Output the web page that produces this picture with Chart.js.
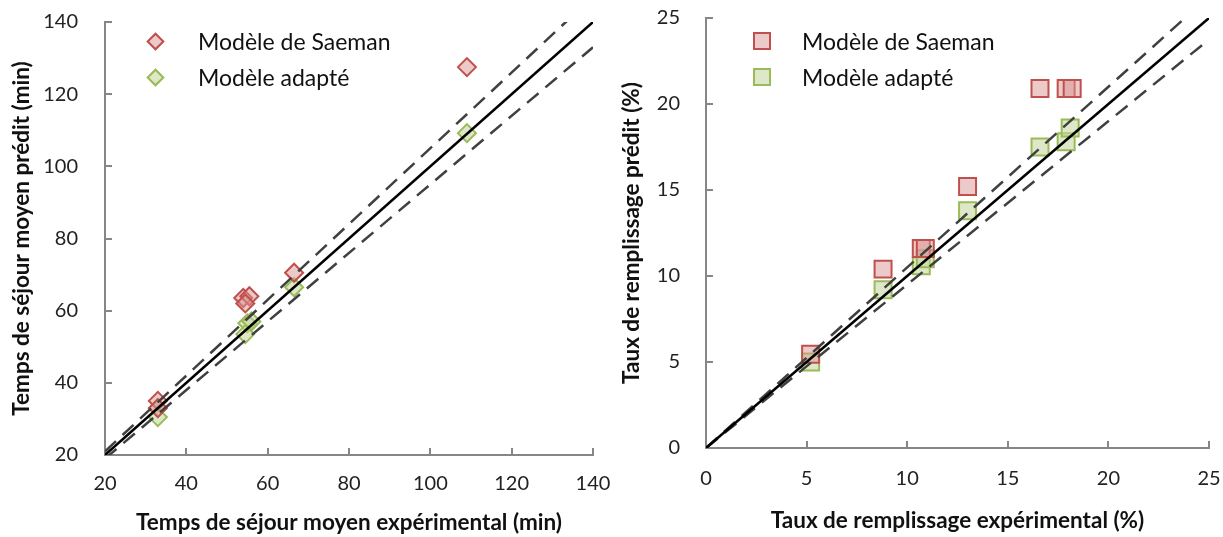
<!DOCTYPE html>
<html>
<head>
<meta charset="utf-8">
<script src="https://cdn.jsdelivr.net/npm/chart.js@4.4.1/dist/chart.umd.min.js"></script>
<style>
  body { margin: 0; background: #fff; font-family: Lato, "Open Sans", sans-serif; }
  #wrap { position: relative; width: 1223px; height: 537px; }
  .box { position: absolute; top: 0; height: 537px; }
  .legend { position: absolute; font-size: 23px; color: #111; }
  .legend div { position: relative; height: 36px; line-height: 36px; white-space: nowrap; }
  .legend span.mk { position: absolute; top: 50%; box-sizing: border-box; border-width: 2px; border-style: solid; }
</style>
</head>
<body>
<div id="wrap">
  <div class="box" style="left:0;width:611px"><canvas id="leftChart"></canvas></div>
  <div class="box" style="left:611px;width:612px"><canvas id="rightChart"></canvas></div>
  <div class="legend" id="leftLegend" style="left:198px;top:23px"></div>
  <div class="legend" id="rightLegend" style="left:802px;top:23px"></div>
</div>
<script>
// temps de sejour (min)
var tsExp     = [33, 33, 54, 55.5, 54.5, 66.5, 109];
var tsSaeman  = [35, 33, 63.5, 64, 62, 70.5, 127.5];
var tsExpA    = [33, 33, 55, 56, 54.5, 66.5, 109];
var tsAdapt   = [33, 30.5, 56.5, 57, 53.5, 66.5, 109.2];

// taux de remplissage (%)
var trExp     = [5.2, 8.8, 10.7, 10.9, 13.0, 16.6, 17.9, 18.2];
var trSaeman  = [5.45, 10.4, 11.6, 11.6, 15.2, 20.9, 20.9, 20.9];
var trExpA    = [5.2, 8.8, 10.7, 10.9, 13.0, 16.6, 17.9, 18.1];
var trAdapt   = [5.0, 9.2, 10.6, 11.0, 13.8, 17.5, 17.8, 18.6];

// droites y=x et +/-5 %
var leftLineX  = [20, 140];
var leftUpY    = [21, 147];
var leftLowY   = [19, 133];
var rightLineX = [0, 25];
var rightUpY   = [0, 26.25];
var rightLowY  = [0, 23.75];

var names = ['Modèle de Saeman', 'Modèle adapté'];
var redFill = 'rgba(217,150,148,0.5)', redLine = '#c0504d';
var greenFill = 'rgba(195,214,155,0.55)', greenLine = '#9bbb59';

function pts(xs, ys) {
  var out = [];
  for (let i = 0; i < xs.length; i++) out.push({x: xs[i], y: ys[i]});
  return out;
}

function lineSets(xs, up, low) {
  var base = {type: 'line', pointRadius: 0, fill: false, tension: 0, borderWidth: 2.5};
  return [
    Object.assign({}, base, {data: pts(xs, xs), borderColor: '#000'}),
    Object.assign({}, base, {data: pts(xs, up), borderColor: '#404040', borderDash: [15, 9]}),
    Object.assign({}, base, {data: pts(xs, low), borderColor: '#404040', borderDash: [15, 9]})
  ];
}

// ticks inside the plot (negative tickLength), as in the original
function axis(min, max, step, title, size, horiz, pad, tpad) {
  return {
    type: 'linear', min: min, max: max,
    ticks: {stepSize: step, color: '#222', font: {size: 20, family: 'Lato'}, padding: pad},
    grid: {drawOnChartArea: false, drawTicks: true, tickLength: -7, color: '#868686', lineWidth: 2},
    border: {color: '#868686', width: 2},
    title: {display: true, text: title, color: '#111', font: {size: 22.5, weight: 'bold', family: 'Lato'}, padding: tpad},
    afterFit: function (s) {
      if (horiz) s.height = size; else s.width = size;
      // layout padding alone decides the plot area
      s.paddingLeft = s.paddingRight = s.paddingTop = s.paddingBottom = 0;
    }
  };
}

function makeChart(id, scatter, lines, style, radius, xs, ys, pad) {
  new Chart(document.getElementById(id).getContext('2d'), {
    type: 'scatter',
    data: {
      datasets: lines.concat([
        {label: names[0], data: scatter[0], pointStyle: style, pointRadius: radius, pointHoverRadius: radius,
         backgroundColor: redFill, borderColor: redLine, borderWidth: 2},
        {label: names[1], data: scatter[1], pointStyle: style, pointRadius: radius, pointHoverRadius: radius,
         backgroundColor: greenFill, borderColor: greenLine, borderWidth: 2}
      ])
    },
    options: {
      responsive: false, animation: false,
      layout: {padding: pad},
      plugins: {legend: {display: false}, tooltip: {enabled: false}},
      scales: {x: xs, y: ys}
    }
  });
}

var lc = document.getElementById('leftChart'); lc.width = 611; lc.height = 537;
var rc = document.getElementById('rightChart'); rc.width = 612; rc.height = 537;

makeChart('leftChart',
  [pts(tsExp, tsSaeman), pts(tsExpA, tsAdapt)],
  lineSets(leftLineX, leftUpY, leftLowY), 'rectRot', 9,
  axis(20, 140, 20, 'Temps de séjour moyen expérimental (min)', 82, true, 24, 1),
  axis(20, 140, 20, 'Temps de séjour moyen prédit (min)', 105, false, 34, 8),
  {top: 22, right: 18, left: 0, bottom: 0});

makeChart('rightChart',
  [pts(trExp, trSaeman), pts(trExpA, trAdapt)],
  lineSets(rightLineX, rightUpY, rightLowY), 'rect', 12,
  axis(0, 25, 5, 'Taux de remplissage expérimental (%)', 89, true, 26, 3),
  axis(0, 25, 5, 'Taux de remplissage prédit (%)', 95, false, 33, 7),
  {top: 18, right: 12, left: 0, bottom: 0});

function legend(id, shape) {
  var el = document.getElementById(id);
  var cols = [[redFill, redLine], [greenFill, greenLine]];
  for (let i = 0; i < names.length; i++) {
    var row = document.createElement('div');
    var mk = document.createElement('span');
    mk.className = 'mk';
    mk.style.background = cols[i][0];
    mk.style.borderColor = cols[i][1];
    if (shape == 'diamond') {
      mk.style.width = '13px'; mk.style.height = '13px';
      mk.style.marginTop = '-6.5px'; mk.style.left = '-49.5px';
      mk.style.transform = 'rotate(45deg)';
    } else {
      mk.style.width = '18px'; mk.style.height = '18px';
      mk.style.marginTop = '-9px'; mk.style.left = '-49px';
    }
    row.appendChild(mk);
    row.appendChild(document.createTextNode(names[i]));
    el.appendChild(row);
  }
}
legend('leftLegend', 'diamond');
legend('rightLegend', 'square');
</script>
</body>
</html>
